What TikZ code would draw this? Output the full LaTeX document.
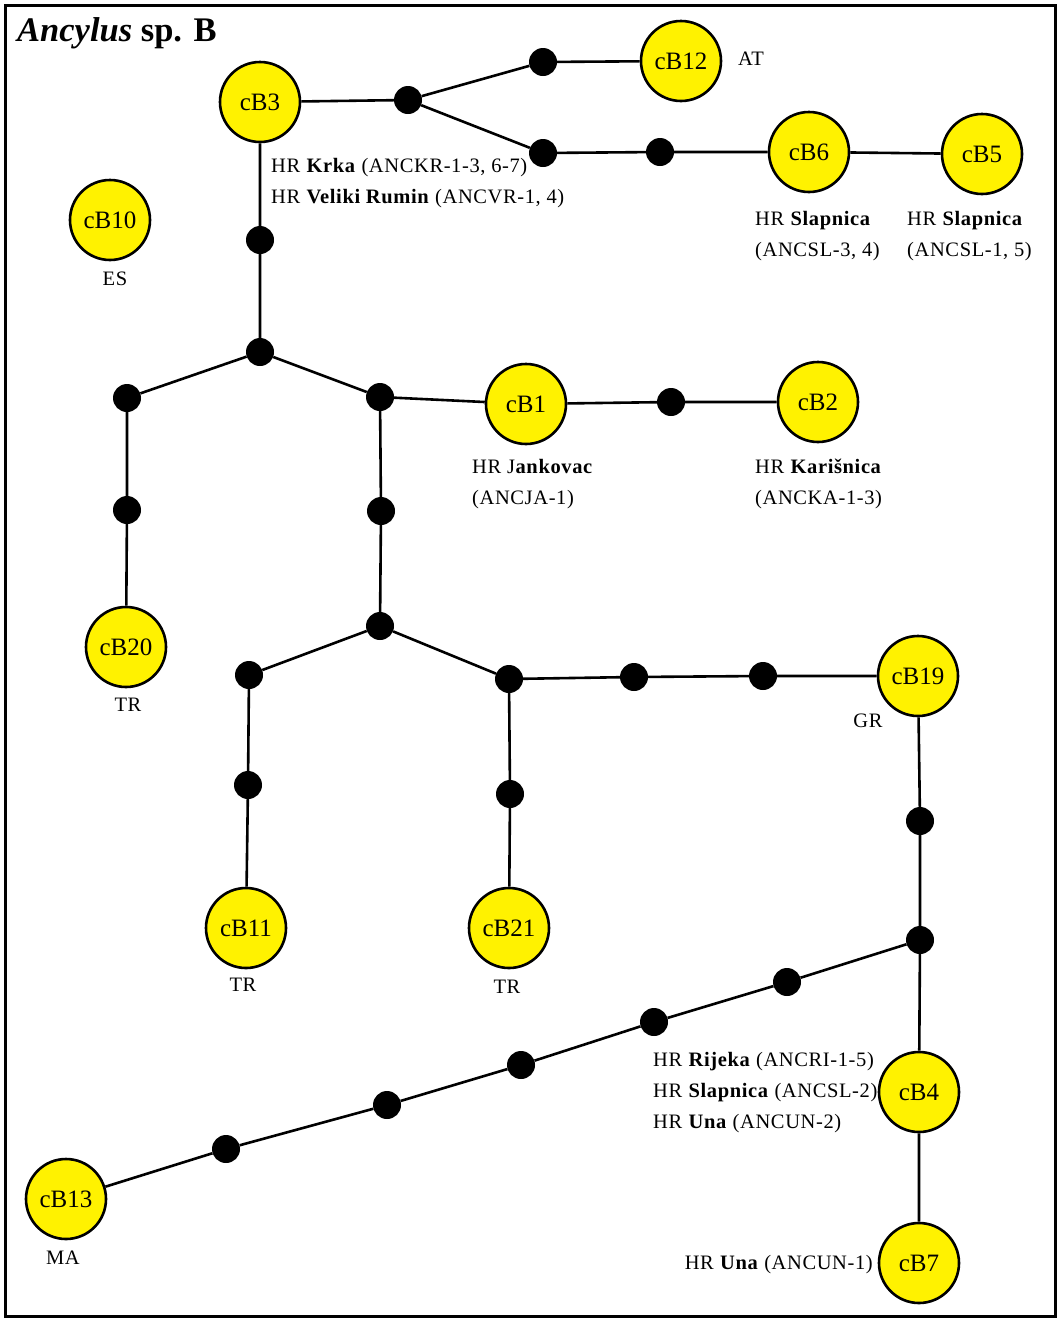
\documentclass[tikz,border=0pt]{standalone}
\usepackage{fontspec}
\setmainfont{Liberation Serif}
\newfontfamily\labfont[LetterSpace=3]{Liberation Serif}
\begin{document}
\begin{tikzpicture}[x=1pt,y=-1pt,
  hap/.style={circle,draw=black,line width=2.6pt,fill=yellow,minimum size=80pt,inner sep=0pt,font=\fontsize{25}{30}\selectfont},
  med/.style={circle,fill=black,minimum size=28pt,inner sep=0pt},
  lnk/.style={line width=2.6pt},
  lab/.style={inner sep=0pt,font=\labfont\fontsize{20.5}{24}\selectfont},
  lab2/.style={inner sep=0pt,align=left,font=\labfont\fontsize{20.5}{31}\selectfont}]
\useasboundingbox (0,0) rectangle (1058,1320);
\draw[line width=3pt] (5,5) rectangle (1055,1316);
\node[anchor=west,inner sep=0pt,font=\fontsize{34.5}{36}\selectfont\bfseries] (title) at (17,33) {\textit{Ancylus} sp. B};
% haplotypes
\node[hap] (cB3) at (260,102) {cB3};
\node[hap] (cB12) at (681,61) {cB12};
\node[hap] (cB6) at (809,152) {cB6};
\node[hap] (cB5) at (982,154) {cB5};
\node[hap] (cB10) at (110,220) {cB10};
\node[hap] (cB20) at (126,647) {cB20};
\node[hap] (cB1) at (526,404) {cB1};
\node[hap] (cB2) at (818,402) {cB2};
\node[hap] (cB11) at (246,928) {cB11};
\node[hap] (cB21) at (509,928) {cB21};
\node[hap] (cB19) at (918,676) {cB19};
\node[hap] (cB4) at (919,1092) {cB4};
\node[hap] (cB7) at (919,1263) {cB7};
\node[hap] (cB13) at (66,1199) {cB13};
% median vectors
\node[med] (d1) at (408,100) {};
\node[med] (d2) at (543,62) {};
\node[med] (d3) at (543,153) {};
\node[med] (d4) at (660,152) {};
\node[med] (d5) at (260,240) {};
\node[med] (d6) at (260,352) {};
\node[med] (d7) at (127,398) {};
\node[med] (d8) at (127,510) {};
\node[med] (d9) at (380,397) {};
\node[med] (d10) at (671,402) {};
\node[med] (d11) at (381,511) {};
\node[med] (d12) at (380,626) {};
\node[med] (d13) at (249,675) {};
\node[med] (d14) at (248,785) {};
\node[med] (d15) at (509,679) {};
\node[med] (d16) at (510,794) {};
\node[med] (d17) at (634,677) {};
\node[med] (d18) at (763,676) {};
\node[med] (d19) at (920,821) {};
\node[med] (d20) at (920,940) {};
\node[med] (d21) at (787,982) {};
\node[med] (d22) at (654,1022) {};
\node[med] (d23) at (521,1065) {};
\node[med] (d24) at (387,1105) {};
\node[med] (d25) at (226,1149) {};
% links
\draw[lnk] (cB3)--(d1) (d1)--(d2) (d1)--(d3) (d2)--(cB12) (d3)--(d4) (d4)--(cB6) (cB6)--(cB5)
  (cB3)--(d5) (d5)--(d6) (d6)--(d7) (d7)--(d8) (d8)--(cB20)
  (d6)--(d9) (d9)--(cB1) (cB1)--(d10) (d10)--(cB2)
  (d9)--(d11) (d11)--(d12) (d12)--(d13) (d13)--(d14) (d14)--(cB11)
  (d12)--(d15) (d15)--(d16) (d16)--(cB21)
  (d15)--(d17) (d17)--(d18) (d18)--(cB19)
  (cB19)--(d19) (d19)--(d20) (d20)--(cB4) (cB4)--(cB7)
  (d20)--(d21) (d21)--(d22) (d22)--(d23) (d23)--(d24) (d24)--(d25) (d25)--(cB13);
% labels
\node[lab,anchor=west] (lAT) at (738,59) {AT};
\node[lab] (lES) at (115,279) {ES};
\node[lab] (lTR1) at (128,705) {TR};
\node[lab] (lTR2) at (243,985) {TR};
\node[lab] (lTR3) at (507,987) {TR};
\node[lab] (lGR) at (868,721) {GR};
\node[lab] (lMA) at (63,1258) {MA};
\node[lab2,anchor=north west] (lKrka) at (271,158) {HR \textbf{Krka} (ANCKR-1-3, 6-7)\\HR \textbf{Veliki Rumin} (ANCVR-1, 4)};
\node[lab2,anchor=north west] (lB6) at (755,211) {HR \textbf{Slapnica}\\(ANCSL-3, 4)};
\node[lab2,anchor=north west] (lB5) at (907,211) {HR \textbf{Slapnica}\\(ANCSL-1, 5)};
\node[lab2,anchor=north west] (lB1) at (472,459) {HR J\textbf{ankovac}\\(ANCJA-1)};
\node[lab2,anchor=north west] (lB2) at (755,459) {HR \textbf{Karišnica}\\(ANCKA-1-3)};
\node[lab2,anchor=north west] (lB4) at (653,1052) {HR \textbf{Rijeka} (ANCRI-1-5)\\HR \textbf{Slapnica} (ANCSL-2)\\HR \textbf{Una} (ANCUN-2)};
\node[lab,anchor=east] (lB7) at (873,1265) {HR \textbf{Una} (ANCUN-1)};
\end{tikzpicture}
\end{document}
